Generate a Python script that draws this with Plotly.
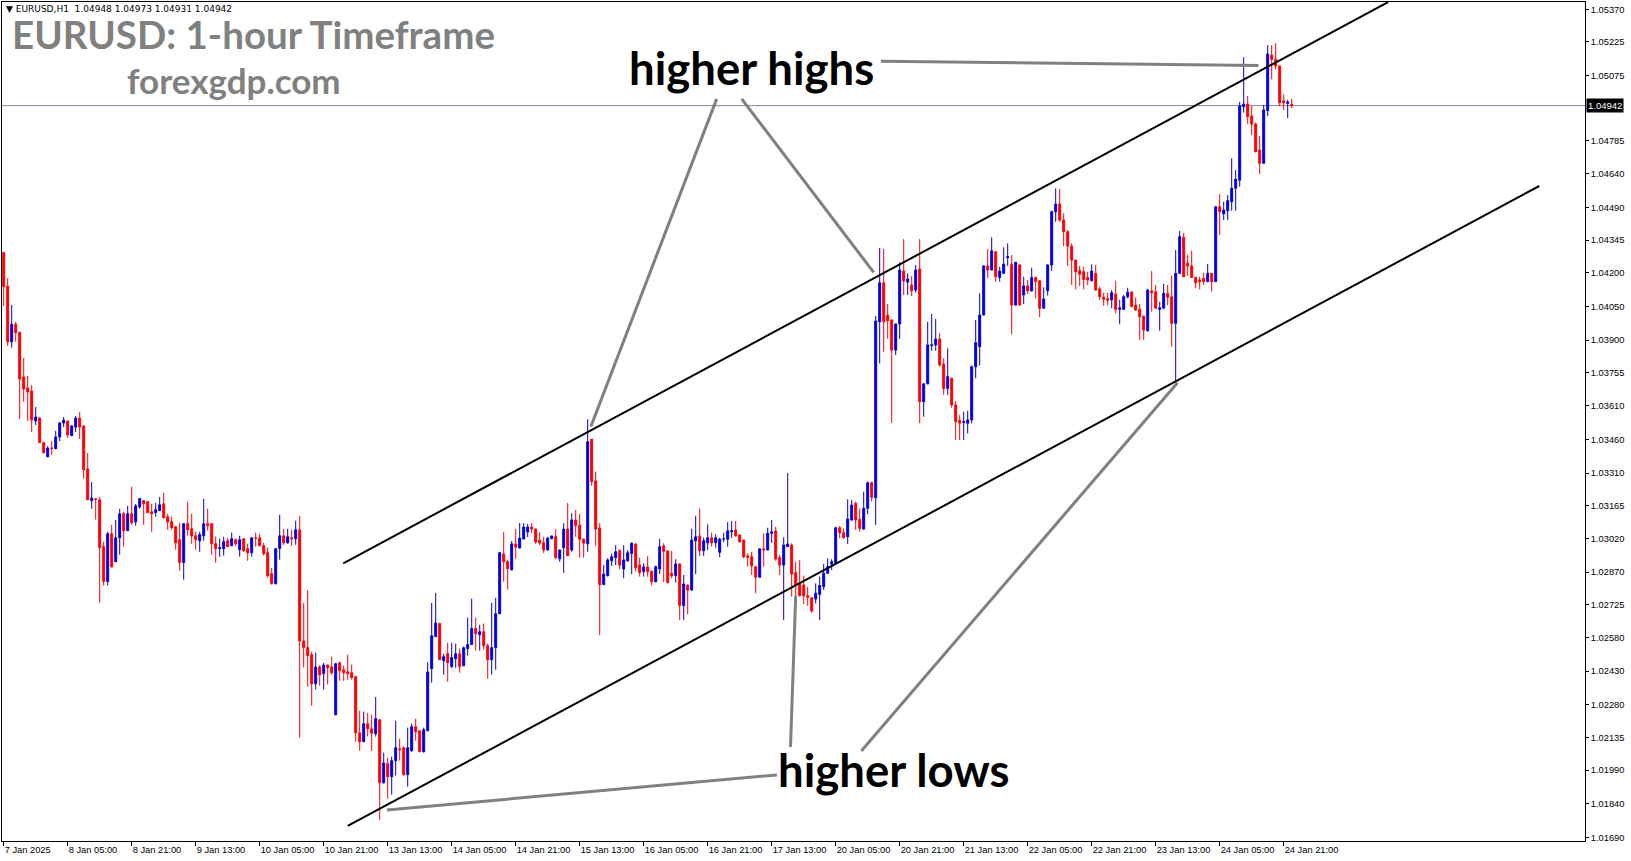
import plotly.graph_objects as go

# ---------------- data (EURUSD H1, 7 Jan 13:00 -> 24 Jan 23:00, 2025) ----------------
opens = [
1.04289,1.04140,1.03893,1.03971,1.03935,1.03737,1.03688,1.03674,1.03541,1.03554,
1.03445,1.03382,1.03421,1.03418,1.03470,1.03532,1.03541,1.03476,1.03514,1.03554,
1.03519,1.03328,1.03187,1.03196,1.03191,1.02983,1.02828,1.03040,1.02916,1.03022,
1.03129,1.03054,1.03129,1.03093,1.03160,1.03187,1.03183,1.03138,1.03134,1.03143,
1.03173,1.03116,1.03093,1.03071,1.03014,1.02912,1.03085,1.03062,1.03031,1.03009,
1.03031,1.03085,1.03085,1.02996,1.02974,1.02974,1.03009,1.02987,1.03014,1.02969,
1.03018,1.02974,1.02956,1.03021,1.03022,1.02987,1.02956,1.02863,1.02819,1.02974,
1.03031,1.03000,1.03022,1.03018,1.03057,1.02564,1.02534,1.02503,1.02374,1.02448,
1.02419,1.02457,1.02448,1.02236,1.02467,1.02436,1.02427,1.02423,1.02405,1.02156,
1.02116,1.02196,1.02174,1.02152,1.02214,1.01934,1.02019,1.01961,1.02032,1.02085,
1.02090,1.01970,1.02076,1.02183,1.02165,1.02072,1.02165,1.02441,1.02583,1.02641,
1.02476,1.02507,1.02450,1.02485,1.02507,1.02454,1.02530,1.02548,1.02619,1.02592,
1.02605,1.02543,1.02481,1.02534,1.02685,1.02950,1.02916,1.02880,1.02995,1.02977,
1.03017,1.03048,1.03070,1.03061,1.03012,1.03000,1.02968,1.03018,1.03027,1.02929,
1.02978,1.03061,1.02968,1.03101,1.03078,1.03016,1.02995,1.03460,1.03275,1.03066,
1.02814,1.02854,1.02920,1.02934,1.02965,1.02884,1.02920,1.02953,1.02995,1.02901,
1.02872,1.02893,1.02874,1.02827,1.02884,1.02986,1.02964,1.02864,1.02854,1.02906,
1.02721,1.02812,1.02790,1.03009,1.03030,1.02965,1.03000,1.03022,1.03000,1.02958,
1.03017,1.03016,1.03049,1.03057,1.03035,1.03012,1.02941,1.02938,1.02894,1.02847,
1.02973,1.02968,1.03042,1.03052,1.02934,1.02901,1.02983,1.02990,1.02867,1.02816,
1.02812,1.02765,1.02756,1.02750,1.02771,1.02805,1.02865,1.02906,1.02909,1.03067,
1.03045,1.03027,1.03101,1.03175,1.03104,1.03061,1.03153,1.03267,1.03200,1.03982,
1.04155,1.04011,1.03990,1.03856,1.03972,1.04207,1.04158,1.04145,1.04123,1.04216,
1.03627,1.03706,1.03876,1.03879,1.03905,1.03794,1.03686,1.03731,1.03612,1.03543,
1.03534,1.03531,1.03546,1.03782,1.03871,1.04012,1.04230,1.04212,1.04293,1.04179,
1.04197,1.04266,1.04237,1.04056,1.04234,1.04101,1.04141,1.04119,1.04178,1.04164,
1.04042,1.04120,1.04234,1.04471,1.04505,1.04434,1.04382,1.04318,1.04256,1.04209,
1.04204,1.04179,1.04164,1.04197,1.04128,1.04091,1.04084,1.04079,1.04105,1.04037,
1.04037,1.04093,1.04113,1.04056,1.04037,1.04007,1.03942,1.04119,1.04115,1.04037,
1.04042,1.04108,1.04093,1.03975,1.04197,1.04357,1.04242,1.04230,1.04179,1.04167,
1.04175,1.04160,1.04197,1.04160,1.04493,1.04461,1.04475,1.04515,1.04575,1.04611,
1.04937,1.04949,1.04896,1.04860,1.04745,1.04686,1.04920,1.05167,1.05148,1.05118,
1.04963,1.04952,1.04948]

highs = [
1.04293,1.04175,1.04056,1.03981,1.03937,1.03821,1.03741,1.03701,1.03603,1.03559,
1.03449,1.03430,1.03452,1.03497,1.03537,1.03559,1.03543,1.03523,1.03563,1.03581,
1.03521,1.03399,1.03270,1.03198,1.03204,1.03005,1.03049,1.03080,1.03102,1.03151,
1.03138,1.03164,1.03249,1.03173,1.03200,1.03189,1.03185,1.03173,1.03178,1.03204,
1.03222,1.03129,1.03116,1.03073,1.03089,1.03087,1.03183,1.03129,1.03049,1.03049,
1.03196,1.03151,1.03087,1.03027,1.03018,1.03027,1.03022,1.03045,1.03018,1.03031,
1.03020,1.02996,1.03024,1.03045,1.03040,1.03000,1.02978,1.02889,1.02976,1.03125,
1.03062,1.03062,1.03058,1.03098,1.03119,1.02732,1.02790,1.02516,1.02512,1.02457,
1.02467,1.02459,1.02494,1.02465,1.02472,1.02454,1.02503,1.02459,1.02410,1.02254,
1.02250,1.02245,1.02236,1.02315,1.02216,1.02068,1.02045,1.02050,1.02210,1.02130,
1.02094,1.02179,1.02196,1.02219,1.02167,1.02179,1.02470,1.02733,1.02777,1.02645,
1.02507,1.02556,1.02556,1.02552,1.02530,1.02539,1.02668,1.02752,1.02668,1.02636,
1.02641,1.02552,1.02734,1.02756,1.02960,1.03048,1.02925,1.03008,1.03061,1.03088,
1.03088,1.03084,1.03088,1.03063,1.03048,1.03026,1.03026,1.03032,1.03060,1.02970,
1.03087,1.03177,1.03131,1.03146,1.03128,1.03020,1.03549,1.03462,1.03316,1.03087,
1.02901,1.02931,1.02953,1.02990,1.02971,1.02990,1.02968,1.03002,1.02997,1.02934,
1.02909,1.02941,1.02876,1.02898,1.03018,1.02998,1.02966,1.02964,1.02927,1.02908,
1.02857,1.02814,1.03062,1.03120,1.03153,1.03024,1.03082,1.03045,1.03038,1.03022,
1.03045,1.03092,1.03097,1.03097,1.03037,1.03014,1.02953,1.02960,1.02896,1.02976,
1.03042,1.03067,1.03101,1.03071,1.02946,1.03024,1.03310,1.02998,1.02916,1.02924,
1.02854,1.02805,1.02758,1.02820,1.02850,1.02906,1.02931,1.02927,1.03071,1.03075,
1.03064,1.03193,1.03190,1.03183,1.03153,1.03227,1.03272,1.03272,1.04008,1.04310,
1.04305,1.04061,1.03992,1.03974,1.04246,1.04349,1.04197,1.04185,1.04234,1.04349,
1.03708,1.03982,1.04017,1.03994,1.03931,1.03820,1.03864,1.03733,1.03630,1.03568,
1.03582,1.03587,1.03787,1.03990,1.04108,1.04234,1.04304,1.04357,1.04295,1.04226,
1.04313,1.04330,1.04278,1.04248,1.04238,1.04182,1.04167,1.04222,1.04182,1.04166,
1.04135,1.04239,1.04475,1.04575,1.04572,1.04464,1.04390,1.04330,1.04258,1.04230,
1.04226,1.04204,1.04237,1.04234,1.04138,1.04111,1.04111,1.04123,1.04164,1.04079,
1.04101,1.04133,1.04119,1.04090,1.04061,1.04009,1.04128,1.04207,1.04145,1.04071,
1.04150,1.04145,1.04187,1.04301,1.04386,1.04377,1.04279,1.04298,1.04182,1.04182,
1.04200,1.04239,1.04199,1.04496,1.04549,1.04515,1.04545,1.04708,1.04656,1.04959,
1.05157,1.04985,1.04940,1.04867,1.04807,1.04945,1.05211,1.05211,1.05219,1.05120,
1.04992,1.04967,1.04973]

lows = [
1.04052,1.03874,1.03867,1.03893,1.03550,1.03626,1.03541,1.03492,1.03523,1.03443,
1.03396,1.03380,1.03391,1.03416,1.03452,1.03514,1.03466,1.03474,1.03492,1.03461,
1.03285,1.03189,1.03151,1.03103,1.02734,1.02810,1.02810,1.02889,1.02914,1.02947,
1.02983,1.03052,1.03080,1.03076,1.03151,1.03080,1.03132,1.03049,1.03116,1.03141,
1.03109,1.03058,1.03058,1.02969,1.02876,1.02836,1.03031,1.02996,1.02969,1.02960,
1.03009,1.03054,1.02947,1.02912,1.02938,1.02943,1.02981,1.02985,1.02987,1.02938,
1.02960,1.02920,1.02938,1.02983,1.02985,1.02943,1.02845,1.02814,1.02814,1.02925,
1.02991,1.02996,1.02987,1.02991,1.02134,1.02446,1.02361,1.02276,1.02348,1.02365,
1.02348,1.02370,1.02414,1.02234,1.02387,1.02387,1.02392,1.02392,1.02116,1.02076,
1.02116,1.02140,1.02076,1.02139,1.01769,1.01930,1.01863,1.01881,1.01966,1.02032,
1.01966,1.01917,1.02072,1.02121,1.02070,1.02068,1.02163,1.02379,1.02581,1.02479,
1.02414,1.02383,1.02445,1.02445,1.02423,1.02452,1.02499,1.02546,1.02521,1.02521,
1.02525,1.02396,1.02414,1.02436,1.02683,1.02827,1.02792,1.02878,1.02929,1.02975,
1.03015,1.03026,1.03044,1.02995,1.02990,1.02955,1.02966,1.03016,1.02927,1.02916,
1.02867,1.02941,1.02960,1.03027,1.02934,1.02934,1.02960,1.03253,1.02987,1.02590,
1.02812,1.02850,1.02897,1.02901,1.02882,1.02842,1.02916,1.02861,1.02872,1.02850,
1.02850,1.02850,1.02810,1.02825,1.02861,1.02825,1.02820,1.02842,1.02823,1.02657,
1.02657,1.02683,1.02788,1.02861,1.02941,1.02941,1.02968,1.02983,1.02978,1.02936,
1.03002,1.02983,1.03022,1.03027,1.03000,1.02931,1.02894,1.02857,1.02776,1.02845,
1.02894,1.02966,1.03000,1.02920,1.02857,1.02657,1.02981,1.02761,1.02761,1.02761,
1.02728,1.02721,1.02690,1.02731,1.02657,1.02790,1.02861,1.02879,1.02906,1.03020,
1.03016,1.02995,1.03099,1.03057,1.03049,1.03059,1.03127,1.03183,1.03079,1.03797,
1.03849,1.03906,1.03533,1.03834,1.03906,1.04101,1.04101,1.04096,1.04111,1.03531,
1.03560,1.03704,1.03853,1.03853,1.03782,1.03657,1.03657,1.03600,1.03457,1.03457,
1.03457,1.03486,1.03531,1.03731,1.03787,1.04010,1.04175,1.04210,1.04160,1.04160,
1.04195,1.04230,1.03926,1.04054,1.04054,1.04061,1.04105,1.04117,1.04086,1.04002,
1.04040,1.04098,1.04208,1.04426,1.04426,1.04318,1.04230,1.04145,1.04126,1.04141,
1.04126,1.04145,1.04162,1.04121,1.04079,1.04053,1.04056,1.04042,1.04019,1.03971,
1.04035,1.04086,1.04047,1.04031,1.03901,1.03901,1.03938,1.04027,1.04040,1.03942,
1.04040,1.04056,1.03871,1.03716,1.04195,1.04180,1.04185,1.04177,1.04131,1.04126,
1.04145,1.04158,1.04116,1.04158,1.04367,1.04434,1.04434,1.04475,1.04475,1.04582,
1.04911,1.04860,1.04812,1.04735,1.04638,1.04684,1.04896,1.05059,1.05103,1.04940,
1.04923,1.04886,1.04931]

closes = [
1.04138,1.03893,1.03971,1.03933,1.03728,1.03683,1.03670,1.03545,1.03559,1.03445,
1.03400,1.03420,1.03419,1.03470,1.03532,1.03545,1.03479,1.03519,1.03554,1.03514,
1.03325,1.03191,1.03199,1.03193,1.02978,1.02828,1.03040,1.02894,1.03022,1.03129,
1.03054,1.03129,1.03089,1.03164,1.03196,1.03173,1.03134,1.03129,1.03147,1.03169,
1.03111,1.03093,1.03067,1.03000,1.02912,1.03085,1.03058,1.03031,1.03014,1.03036,
1.03085,1.03076,1.02996,1.02974,1.02978,1.03005,1.02983,1.03018,1.02996,1.03014,
1.02965,1.02956,1.03022,1.03021,1.02987,1.02952,1.02854,1.02819,1.02974,1.03031,
1.03000,1.03027,1.03018,1.03058,1.02564,1.02534,1.02499,1.02374,1.02448,1.02414,
1.02457,1.02445,1.02423,1.02463,1.02432,1.02423,1.02418,1.02401,1.02156,1.02116,
1.02196,1.02174,1.02154,1.02219,1.01934,1.02022,1.01961,1.02032,1.02090,1.02081,
1.01970,1.02090,1.02183,1.02161,1.02072,1.02170,1.02426,1.02587,1.02644,1.02481,
1.02494,1.02467,1.02490,1.02507,1.02450,1.02534,1.02548,1.02619,1.02596,1.02605,
1.02543,1.02481,1.02534,1.02685,1.02956,1.02916,1.02885,1.02995,1.02981,1.03021,
1.03070,1.03070,1.03061,1.03004,1.02999,1.02968,1.03021,1.03030,1.02934,1.02968,
1.03061,1.02943,1.03101,1.03076,1.03016,1.02998,1.03449,1.03272,1.03061,1.02814,
1.02861,1.02924,1.02938,1.02960,1.02901,1.02924,1.02956,1.02998,1.02889,1.02867,
1.02893,1.02872,1.02827,1.02894,1.02983,1.02962,1.02823,1.02854,1.02906,1.02721,
1.02817,1.02790,1.03012,1.03027,1.02965,1.03009,1.03022,1.03000,1.03022,1.03016,
1.03017,1.03053,1.03054,1.03031,1.03005,1.02938,1.02936,1.02898,1.02847,1.02973,
1.02968,1.03042,1.03049,1.02928,1.02901,1.02990,1.02995,1.02861,1.02810,1.02765,
1.02765,1.02758,1.02697,1.02776,1.02810,1.02865,1.02894,1.02916,1.03067,1.03045,
1.03024,1.03106,1.03168,1.03101,1.03064,1.03153,1.03267,1.03202,1.03985,1.04155,
1.03982,1.03986,1.03856,1.03972,1.04212,1.04163,1.04172,1.04119,1.04212,1.03627,
1.03706,1.03879,1.03879,1.03905,1.03790,1.03686,1.03738,1.03612,1.03538,1.03531,
1.03538,1.03546,1.03782,1.03889,1.04012,1.04230,1.04212,1.04297,1.04182,1.04207,
1.04238,1.04271,1.04056,1.04246,1.04056,1.04141,1.04119,1.04178,1.04160,1.04042,
1.04083,1.04234,1.04471,1.04505,1.04434,1.04382,1.04318,1.04256,1.04204,1.04193,
1.04170,1.04167,1.04207,1.04123,1.04093,1.04082,1.04078,1.04111,1.04037,1.04044,
1.04093,1.04113,1.04049,1.04034,1.04004,1.03945,1.04123,1.04111,1.04042,1.04044,
1.04108,1.04091,1.03975,1.04197,1.04360,1.04182,1.04230,1.04179,1.04155,1.04160,
1.04160,1.04197,1.04160,1.04493,1.04471,1.04478,1.04520,1.04575,1.04615,1.04942,
1.04949,1.04893,1.04860,1.04737,1.04686,1.04923,1.05171,1.05148,1.05118,1.04955,
1.04955,1.04958,1.04942]

bars = list(range(len(closes)))

x_tick_bars = [0, 16, 32, 48, 64, 80, 96, 112, 128, 144, 160, 176, 192, 208, 224, 240, 256, 272, 288, 304, 320]
x_tick_labels = ["7 Jan 2025", "8 Jan 05:00", "8 Jan 21:00", "9 Jan 13:00", "10 Jan 05:00",
                 "10 Jan 21:00", "13 Jan 13:00", "14 Jan 05:00", "14 Jan 21:00", "15 Jan 13:00",
                 "16 Jan 05:00", "16 Jan 21:00", "17 Jan 13:00", "20 Jan 05:00", "20 Jan 21:00",
                 "21 Jan 13:00", "22 Jan 05:00", "22 Jan 21:00", "23 Jan 13:00", "24 Jan 05:00",
                 "24 Jan 21:00"]
y_tick_values = [1.05370, 1.05225, 1.05075, 1.04930, 1.04785, 1.04640, 1.04490, 1.04345, 1.04200,
                 1.04050, 1.03900, 1.03755, 1.03610, 1.03460, 1.03310, 1.03165, 1.03020, 1.02870,
                 1.02725, 1.02580, 1.02430, 1.02280, 1.02135, 1.01990, 1.01840, 1.01690]
# the 1.04930 label sits under the current-price box, so it is left blank
y_tick_labels = ["" if abs(v - 1.04930) < 1e-9 else "%.5f" % v for v in y_tick_values]

last_price = 1.04942
header_text = "▼ EURUSD,H1  1.04948 1.04973 1.04931 1.04942"

# channel trend lines: (bar, price) anchors
upper_channel = [(84.9, 1.02909), (346.1, 1.05402)]
lower_channel = [(86.0, 1.01742), (383.9, 1.04585)]
# pointer lines from labels to swing points: (bar, price)
highs_pointers = [[(178.25, 1.04972), (146.8, 1.03517)],
                  [(184.5, 1.04972), (217.5, 1.04201)],
                  [(219.3, 1.05139), (313.7, 1.05120)]]
lows_pointers = [[(193.3, 1.01969), (95.8, 1.01813)],
                 [(196.7, 1.02093), (198.0, 1.02764)],
                 [(214.4, 1.02075), (293.45, 1.03711)]]

# ---------------- figure ----------------
W, H = 1631, 861
ML, MR, MT, MB = 2, 46, 2, 20
PW, PH = W - ML - MR, H - MT - MB
Y0, Y1 = 1.016753, 1.054024
X0, X1 = -0.425, 395.325


def px(xp):
    return (xp - ML) / PW


def py(yp):
    return 1 - (yp - MT) / PH


fig = go.Figure()
fig.add_trace(go.Candlestick(
    x=bars, open=opens, high=highs, low=lows, close=closes,
    increasing=dict(line=dict(color="#0000DD", width=1), fillcolor="#0000DD"),
    decreasing=dict(line=dict(color="#FF0000", width=1), fillcolor="#FF0000"),
    whiskerwidth=0, showlegend=False, hoverinfo="skip"))

shapes = []
shapes.append(dict(type="line", xref="paper", yref="y", x0=0, x1=1, y0=last_price, y1=last_price,
                   line=dict(color="#778899", width=1), layer="below"))
for (a, b) in [upper_channel, lower_channel]:
    shapes.append(dict(type="line", xref="x", yref="y", x0=a[0], y0=a[1], x1=b[0], y1=b[1],
                       line=dict(color="black", width=2)))
for seg in highs_pointers + lows_pointers:
    (a, b) = seg
    shapes.append(dict(type="line", xref="x", yref="y", x0=a[0], y0=a[1], x1=b[0], y1=b[1],
                       line=dict(color="#808080", width=3)))

ann = []
ann.append(dict(xref="paper", yref="paper", x=px(4), y=py(9), xanchor="left", yanchor="middle",
                text=header_text, showarrow=False,
                font=dict(family="DejaVu Sans, Liberation Sans", size=9, color="black")))
ann.append(dict(xref="paper", yref="paper", x=px(10), y=py(34), xanchor="left", yanchor="middle",
                text="<b>EURUSD: 1-hour Timeframe</b>", showarrow=False,
                font=dict(family="Lato", size=38.5, color="#808080")))
ann.append(dict(xref="paper", yref="paper", x=px(125), y=py(80), xanchor="left", yanchor="middle",
                text="<b>forexgdp.com</b>", showarrow=False,
                font=dict(family="Lato", size=35, color="#808080")))
ann.append(dict(xref="paper", yref="paper", x=px(627), y=py(68), xanchor="left", yanchor="middle",
                text="<b>higher highs</b>", showarrow=False,
                font=dict(family="Lato", size=45.5, color="black")))
ann.append(dict(xref="paper", yref="paper", x=px(776), y=py(769), xanchor="left", yanchor="middle",
                text="<b>higher lows</b>", showarrow=False,
                font=dict(family="Lato", size=45.5, color="black")))
ann.append(dict(xref="paper", yref="y", x=1, y=last_price, xanchor="left", yanchor="middle",
                text="1.04942", showarrow=False, xshift=1, bgcolor="black", borderpad=1,
                font=dict(family="Liberation Sans", size=9.5, color="white")))

fig.update_layout(
    width=W, height=H, margin=dict(l=ML, r=MR, t=MT, b=MB, pad=0),
    paper_bgcolor="white", plot_bgcolor="white",
    shapes=shapes, annotations=ann, showlegend=False,
    xaxis=dict(range=[X0, X1], tickmode="array", tickvals=x_tick_bars, ticktext=x_tick_labels,
               ticks="outside", ticklen=4, tickcolor="black", tickwidth=1,
               showline=True, linecolor="black", linewidth=1, mirror=True,
               showgrid=False, zeroline=False, ticklabelposition="outside right",
               tickfont=dict(family="Liberation Sans", size=9.3, color="black"),
               rangeslider=dict(visible=False), fixedrange=True),
    yaxis=dict(range=[Y0, Y1], side="right", tickmode="array", tickvals=y_tick_values,
               ticktext=y_tick_labels, ticks="outside", ticklen=3, tickcolor="black",
               showline=True, linecolor="black", linewidth=1, mirror=True,
               showgrid=False, zeroline=False,
               tickfont=dict(family="Liberation Sans", size=9.3, color="black"), fixedrange=True),
)

fig.write_html("out.html", config={"displayModeBar": False},
               post_script="document.body.style.margin='0';document.body.style.overflow='hidden';")
